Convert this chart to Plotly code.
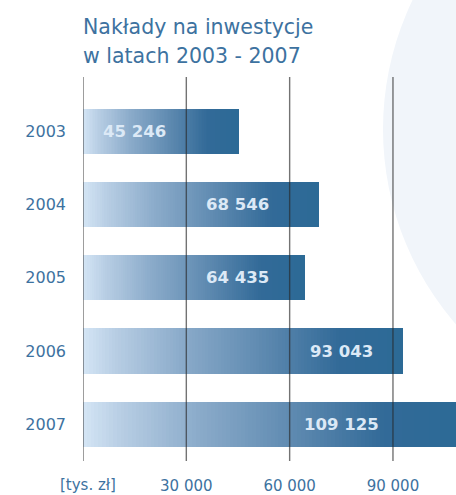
import math
import plotly.graph_objects as go

# ---- data ----
years = ["2003", "2004", "2005", "2006", "2007"]
values = [45246, 68546, 64435, 93043, 109125]
tick_vals = [0, 30000, 60000, 90000]
tick_text = ["", "30 000", "60 000", "90 000"]
unit_label = "[tys. zł]"
title_lines = ["Nakłady na inwestycje", "w latach 2003 - 2007"]
grid_step = 30000

# ---- style ----
W, H = 456, 495
ML, MR, MT, MB = 83, 0, 77, 28
PW, PH = W - ML - MR, H - MT - MB
TEXT_BLUE = "#3d72a0"
FONT = "DejaVu Sans"
LABEL_COLOR = "#dce9f6"
stops = [(0.0, (212, 229, 245)), (0.1, (184, 206, 228)), (0.3, (140, 172, 203)),
         (0.55, (96, 139, 177)), (0.8, (50, 106, 152)), (1.0, (44, 106, 150))]


def grad(t):
    for (t0, c0), (t1, c1) in zip(stops[:-1], stops[1:]):
        if t <= t1:
            f = (t - t0) / (t1 - t0)
            return "rgb(%d,%d,%d)" % tuple(round(a + (b - a) * f) for a, b in zip(c0, c1))
    return "rgb(%d,%d,%d)" % stops[-1][1]


def px_x(p):
    return (p - ML) / PW


def px_y(p):
    return (MT + PH - p) / PH


N = 100
fig = go.Figure()
for k in range(N):
    t = (k + 0.5) / N
    fig.add_trace(go.Bar(
        y=years, x=[v / N for v in values], orientation="h",
        marker=dict(color=grad(t), line=dict(width=0)),
        hoverinfo="skip", showlegend=False,
    ))

annotations = []
for i, (y, v) in enumerate(zip(years, values)):
    lx = (math.floor(v / grid_step) - 0.5) * grid_step
    annotations.append(dict(
        x=lx, y=i, xref="x", yref="y", text="<b>" + f"{v:,}".replace(",", " ") + "</b>",
        showarrow=False, xanchor="center", yanchor="middle",
        font=dict(family=FONT, size=16.5, color=LABEL_COLOR),
    ))

annotations.append(dict(
    x=px_x(88), y=px_y(491), xref="paper", yref="paper", text=unit_label,
    showarrow=False, xanchor="center", yanchor="middle",
    font=dict(family=FONT, size=15, color=TEXT_BLUE),
))
for line, cy in zip(title_lines, [26, 56]):
    annotations.append(dict(
        x=px_x(81), y=px_y(cy), xref="paper", yref="paper", text=line,
        showarrow=False, xanchor="left", yanchor="middle",
        font=dict(family=FONT, size=20.5, color=TEXT_BLUE),
    ))

shapes = [dict(type="circle", xref="paper", yref="paper", layer="below",
               x0=px_x(383), x1=px_x(995), y0=px_y(436), y1=px_y(-176),
               fillcolor="#f1f5fa", line=dict(width=0))]
for tv in tick_vals:
    shapes.append(dict(type="line", xref="x", yref="paper", layer="above",
                       x0=tv, x1=tv, y0=0, y1=1,
                       line=dict(color="rgba(40,40,40,0.65)", width=1.4)))

fig.update_layout(
    width=W, height=H,
    margin=dict(l=ML, r=MR, t=MT, b=MB, pad=0),
    paper_bgcolor="white", plot_bgcolor="rgba(0,0,0,0)",
    barmode="stack", bargap=0.382,
    showlegend=False,
    annotations=annotations, shapes=shapes,
    xaxis=dict(range=[0, 108300], showgrid=False, zeroline=False, showline=False,
               tickvals=tick_vals, ticktext=tick_text, ticks="",
               tickfont=dict(family=FONT, size=15, color=TEXT_BLUE),
               ticklabelstandoff=14, fixedrange=True),
    yaxis=dict(type="category", categoryorder="array", categoryarray=years,
               range=[4.5, -0.74], showgrid=False, zeroline=False, showline=False,
               ticks="", tickfont=dict(family=FONT, size=16, color=TEXT_BLUE),
               ticklabelstandoff=16, fixedrange=True),
)

fig.write_html("out.html", config={"displayModeBar": False},
               post_script="document.body.style.margin='0';document.body.style.overflow='hidden';")
